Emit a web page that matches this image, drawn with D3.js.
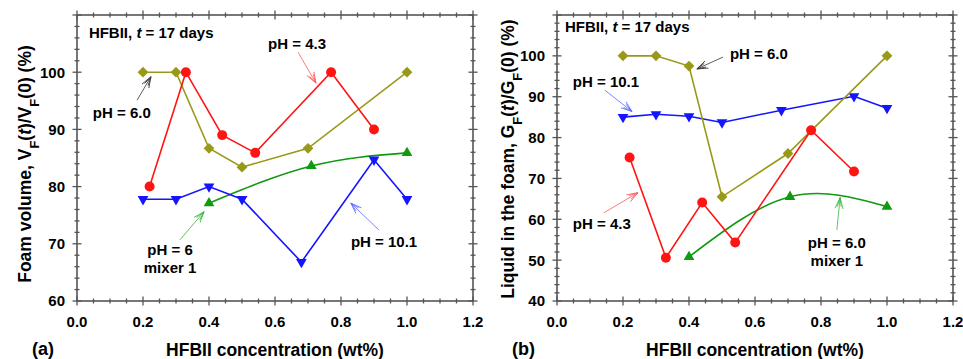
<!DOCTYPE html>
<html>
<head>
<meta charset="utf-8">
<script src="https://cdn.jsdelivr.net/npm/d3@7"></script>
<style>
  body { margin: 0; background: #fff; }
  text { font-family: "Liberation Sans", Arial, sans-serif; font-weight: bold; fill: #000; }
</style>
</head>
<body>
<svg id="chart" width="963" height="359"></svg>
<script>
// x axis (shared)
var xTicks = [0.0, 0.2, 0.4, 0.6, 0.8, 1.0, 1.2];

// panel (a) foam volume
var aYTicks = [60, 70, 80, 90, 100];
var aRedX = [0.22, 0.33, 0.44, 0.54, 0.77, 0.90];
var aRedY = [80, 100, 89, 85.9, 100, 90];
var aOliveX = [0.2, 0.3, 0.4, 0.5, 0.7, 1.0];
var aOliveY = [100, 100, 86.7, 83.4, 86.7, 100];
var aBlueX = [0.2, 0.3, 0.4, 0.5, 0.68, 0.9, 1.0];
var aBlueY = [77.8, 77.8, 80, 77.8, 66.8, 84.7, 77.8];
var aGreenX = [0.4, 0.71, 1.0];
var aGreenY = [77.1, 83.6, 85.9];

// panel (b) liquid in the foam
var bYTicks = [40, 50, 60, 70, 80, 90, 100];
var bRedX = [0.22, 0.33, 0.44, 0.54, 0.77, 0.90];
var bRedY = [75.1, 50.6, 64.1, 54.3, 81.8, 71.7];
var bOliveX = [0.2, 0.3, 0.4, 0.5, 0.7, 1.0];
var bOliveY = [100, 100, 97.5, 65.5, 76.1, 100];
var bBlueX = [0.2, 0.3, 0.4, 0.5, 0.68, 0.9, 1.0];
var bBlueY = [85, 85.7, 85.2, 83.7, 86.7, 90.1, 87.2];
var bGreenX = [0.4, 0.706, 1.0];
var bGreenY = [50.8, 65.5, 63.1];

// annotation labels: [lines, x, y, anchor] and arrows [x1,y1,x2,y2]
var aLabels = [
  [["pH = 4.3"], 0.579, 104.1, "start"],
  [["pH = 6.0"], 0.048, 92.0, "start"],
  [["pH = 6", "mixer 1"], 0.282, 68.0, "middle"],
  [["pH = 10.1"], 0.83, 69.4, "start"]
];
var aArrows = [
  [0.67, 103.5, 0.724, 98.1, "#ff5a5a"],
  [0.182, 95.1, 0.224, 99.2, "#333"],
  [0.312, 70.7, 0.385, 75.6, "#3cb43c"],
  [0.915, 72.4, 0.83, 77.1, "#5a6aff"]
];
var bLabels = [
  [["pH = 6.0"], 0.524, 99.2, "start"],
  [["pH = 10.1"], 0.048, 92.3, "start"],
  [["pH = 4.3"], 0.048, 57.7, "start"],
  [["pH = 6.0", "mixer 1"], 0.848, 53.0, "middle"]
];
var bArrows = [
  [0.503, 99.7, 0.424, 96.8, "#333"],
  [0.145, 91.6, 0.227, 86.4, "#5a6aff"],
  [0.142, 61.6, 0.245, 66.5, "#ff5a5a"],
  [0.848, 57.4, 0.858, 65.3, "#3cb43c"]
];

var colors = { red: "#ff1414", olive: "#999918", blue: "#1414ff", green: "#109a10" };

var svg = d3.select("#chart");
var defs = svg.append("defs");
var markerCount = 0;

function arrowMarker(color) {
  var id = "arr" + (markerCount++);
  defs.append("marker")
    .attr("id", id)
    .attr("markerUnits", "userSpaceOnUse")
    .attr("markerWidth", 14).attr("markerHeight", 10)
    .attr("refX", 11).attr("refY", 5)
    .attr("orient", "auto")
    .append("path")
    .attr("d", "M0,1 L11,5 L0,9 M2,3 L11,5 L2,7")
    .attr("fill", "none")
    .attr("stroke", color)
    .attr("stroke-width", 0.8);
  return "url(#" + id + ")";
}

function zip(xs, ys) {
  return xs.map(function(v, i) { return { x: v, y: ys[i] }; });
}

function drawPanel(p) {
  var x = d3.scaleLinear().domain([0, 1.2]).range([p.left, p.right]);
  var y = d3.scaleLinear().domain(p.yDomain).range([301, 15]);
  var g = svg.append("g");

  var axisColor = "#555";
  var minorX = d3.range(0, 1.2001, 0.05);
  var minorY = d3.range(p.yDomain[0], p.yDomain[1] + 0.001, 2);

  // frame
  g.append("rect")
    .attr("x", p.left).attr("y", 15)
    .attr("width", p.right - p.left).attr("height", 286)
    .attr("fill", "none").attr("stroke", axisColor).attr("stroke-width", 1.6);

  // ticks on all four sides, crossing the frame
  [301, 15].forEach(function(yy) {
    g.selectAll(null).data(minorX).enter().append("line")
      .attr("x1", function(d) { return x(d); }).attr("x2", function(d) { return x(d); })
      .attr("y1", function(d) { var major = Math.abs(d * 5 - Math.round(d * 5)) < 1e-6; return yy - (major ? 4.5 : 2.5); })
      .attr("y2", function(d) { var major = Math.abs(d * 5 - Math.round(d * 5)) < 1e-6; return yy + (major ? 4.5 : 2.5); })
      .attr("stroke", axisColor).attr("stroke-width", 1.3);
  });
  [p.left, p.right].forEach(function(xx) {
    g.selectAll(null).data(minorY).enter().append("line")
      .attr("y1", function(d) { return y(d); }).attr("y2", function(d) { return y(d); })
      .attr("x1", function(d) { return xx - (d % 10 === 0 ? 4.5 : 2.5); })
      .attr("x2", function(d) { return xx + (d % 10 === 0 ? 4.5 : 2.5); })
      .attr("stroke", axisColor).attr("stroke-width", 1.3);
  });

  // tick labels
  g.selectAll(null).data(xTicks).enter().append("text")
    .attr("x", function(d) { return x(d); }).attr("y", 327)
    .attr("text-anchor", "middle").style("font-size", "15px")
    .text(function(d) { return d3.format(".1f")(d); });
  g.selectAll(null).data(p.yTicks).enter().append("text")
    .attr("x", p.left - 12).attr("y", function(d) { return y(d); })
    .attr("dy", "0.36em")
    .attr("text-anchor", "end").style("font-size", "15px")
    .text(function(d) { return d; });

  // axis titles
  g.append("text")
    .attr("x", (p.left + p.right) / 2).attr("y", 356)
    .attr("text-anchor", "middle").style("font-size", "17.5px")
    .text("HFBII concentration (wt%)");
  g.append("text")
    .attr("x", p.left - 45).attr("y", 355)
    .style("font-size", "18px")
    .text(p.tag);

  var yl = g.append("text")
    .attr("transform", "translate(" + p.yLabelX + "," + p.yLabelY + ") rotate(-90)")
    .attr("text-anchor", "middle").style("font-size", "17.5px");
  yl.append("tspan").text(p.yLabel[0] + ", " + p.yLabel[1]);
  yl.append("tspan").attr("baseline-shift", "sub").style("font-size", "13px").text("F");
  yl.append("tspan").text("(");
  yl.append("tspan").style("font-style", "italic").text("t");
  yl.append("tspan").text(")/" + p.yLabel[1]);
  yl.append("tspan").attr("baseline-shift", "sub").style("font-size", "13px").text("F");
  yl.append("tspan").text("(0) (%)");

  // corner label
  var hl = g.append("text")
    .attr("x", x(p.titleX)).attr("y", y(p.titleY))
    .style("font-size", "15px");
  hl.append("tspan").text("HFBII, ");
  hl.append("tspan").style("font-style", "italic").text("t");
  hl.append("tspan").text(" = 17 days");

  // series
  var line = d3.line().x(function(d) { return x(d.x); }).y(function(d) { return y(d.y); });
  var smooth = d3.line().curve(d3.curveNatural).x(function(d) { return x(d.x); }).y(function(d) { return y(d.y); });

  p.series.forEach(function(s) {
    var data = zip(s.xs, s.ys);
    g.append("path")
      .attr("d", (s.smooth ? smooth : line)(data))
      .attr("fill", "none").attr("stroke", s.color).attr("stroke-width", 1.6);
    var sym = d3.symbol().type(s.type).size(s.size);
    g.selectAll(null).data(data).enter().append("path")
      .attr("d", sym)
      .attr("transform", function(d) { return "translate(" + x(d.x) + "," + y(d.y) + ") rotate(" + s.rot + ")"; })
      .attr("fill", s.color);
  });

  // annotations
  p.arrows.forEach(function(a) {
    g.append("line")
      .attr("x1", x(a[0])).attr("y1", y(a[1]))
      .attr("x2", x(a[2])).attr("y2", y(a[3]))
      .attr("stroke", a[4]).attr("stroke-width", 0.8)
      .attr("marker-end", arrowMarker(a[4]));
  });
  p.labels.forEach(function(l) {
    l[0].forEach(function(t, i) {
      g.append("text")
        .attr("x", x(l[1])).attr("y", y(l[2]) + i * 18)
        .attr("text-anchor", l[3]).style("font-size", "15px")
        .text(t);
    });
  });
}

function seriesList(rx, ry, ox, oy, bx, by, gx, gy) {
  return [
    { xs: gx, ys: gy, color: colors.green, type: d3.symbolTriangle, size: 50, rot: 0, smooth: true },
    { xs: bx, ys: by, color: colors.blue, type: d3.symbolTriangle, size: 50, rot: 180 },
    { xs: ox, ys: oy, color: colors.olive, type: d3.symbolSquare, size: 58, rot: 45 },
    { xs: rx, ys: ry, color: colors.red, type: d3.symbolCircle, size: 78, rot: 0 }
  ];
}

drawPanel({
  left: 77, right: 473, yDomain: [60, 110], yTicks: aYTicks, tag: "(a)",
  yLabel: ["Foam volume", "V"], yLabelX: 31, yLabelY: 164,
  titleX: 0.036, titleY: 106.0,
  series: seriesList(aRedX, aRedY, aOliveX, aOliveY, aBlueX, aBlueY, aGreenX, aGreenY),
  labels: aLabels, arrows: aArrows
});

drawPanel({
  left: 557, right: 953, yDomain: [40, 110], yTicks: bYTicks, tag: "(b)",
  yLabel: ["Liquid in the foam", "G"], yLabelX: 514, yLabelY: 159,
  titleX: 0.024, titleY: 105.8,
  series: seriesList(bRedX, bRedY, bOliveX, bOliveY, bBlueX, bBlueY, bGreenX, bGreenY),
  labels: bLabels, arrows: bArrows
});
</script>
</body>
</html>
